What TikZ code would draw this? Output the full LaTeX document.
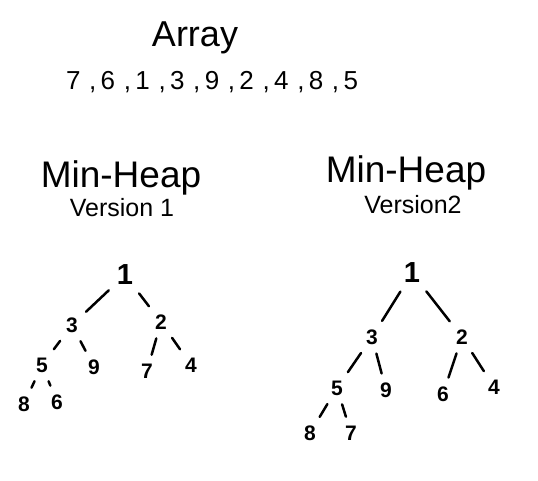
\documentclass[tikz,border=0pt]{standalone}
\usepackage{fontspec}
\setmainfont{Liberation Sans}
\usetikzlibrary{positioning}

\begin{document}
\begin{tikzpicture}[x=1pt, y=-1pt, line width=2.5pt, line cap=round]

    % --- Stile ---
    \tikzset{
        titel/.style={font=\fontsize{36}{40}\selectfont},
        folge/.style={font=\fontsize{26}{28}\selectfont},
        kopf/.style={font=\fontsize{37}{40}\selectfont},
        version/.style={font=\fontsize{25}{28}\selectfont},
        zahl/.style={inner sep=4pt, font=\fontsize{21}{22}\selectfont\bfseries},
        wurzel/.style={zahl, font=\fontsize{29}{30}\selectfont\bfseries},
        kante/.style={shorten <=4pt, shorten >=4pt}
    }

    \useasboundingbox (0,0) rectangle (538,480);

    % --- Array ---
    \node[titel] (array) at (195,38) {Array};
    \node[folge] (werte) at (212,82) {7\,\,,\,6\,\,,\,1\,\,,\,3\,\,,\,9\,\,,\,2\,\,,\,4\,\,,\,8\,\,,\,5};

    % --- Überschriften ---
    \node[kopf]    (kopfA) at (121,178) {Min-Heap};
    \node[version] (verA)  at (122,208) {Version 1};
    \node[kopf]    (kopfB) at (406,173) {Min-Heap};
    \node[version] (verB)  at (413,205) {Version2};

    % --- Version 1 ---
    \node[wurzel] (a1) at (125,275) {1};
    \node[zahl]   (a3) at (72,325)  {3};
    \node[zahl]   (a2) at (161,322) {2};
    \node[zahl]   (a5) at (42,365)  {5};
    \node[zahl]   (a9) at (94,367)  {9};
    \node[zahl]   (a7) at (147,371) {7};
    \node[zahl]   (a4) at (191,365) {4};
    \node[zahl]   (a8) at (24,404)  {8};
    \node[zahl]   (a6) at (57,402)  {6};

    \draw[kante] (a1) -- (a3);
    \draw[kante] (a1) -- (a2);
    \draw[kante] (a3) -- (a5);
    \draw[kante] (a3) -- (a9);
    \draw[kante] (a2) -- (a7);
    \draw[kante] (a2) -- (a4);
    \draw[kante] (a5) -- (a8);
    \draw[kante] (a5) -- (a6);

    % --- Version 2 ---
    \node[wurzel] (b1) at (412,273) {1};
    \node[zahl]   (b3) at (372,337) {3};
    \node[zahl]   (b2) at (462,337) {2};
    \node[zahl]   (b5) at (337,388) {5};
    \node[zahl]   (b9) at (386,390) {9};
    \node[zahl]   (b6) at (443,394) {6};
    \node[zahl]   (b4) at (494,387) {4};
    \node[zahl]   (b8) at (310,433) {8};
    \node[zahl]   (b7) at (351,433) {7};

    \draw[kante] (b1) -- (b3);
    \draw[kante] (b1) -- (b2);
    \draw[kante] (b3) -- (b5);
    \draw[kante] (b3) -- (b9);
    \draw[kante] (b2) -- (b6);
    \draw[kante] (b2) -- (b4);
    \draw[kante] (b5) -- (b8);
    \draw[kante] (b5) -- (b7);

\end{tikzpicture}
\end{document}
